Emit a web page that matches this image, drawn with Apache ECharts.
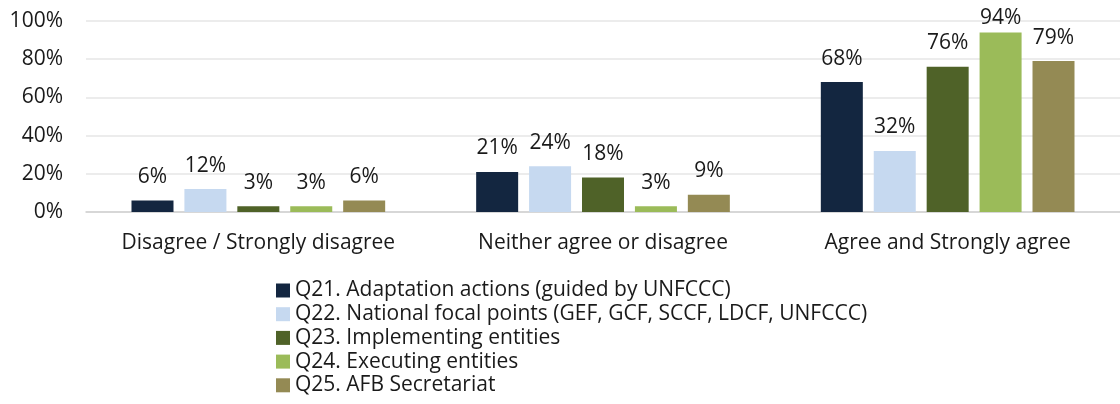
<!DOCTYPE html>
<html>
<head>
<meta charset="utf-8">
<script src="https://cdn.jsdelivr.net/npm/echarts@6/dist/echarts.min.js"></script>
<style>
  html, body { margin: 0; padding: 0; background: #fff; }
  #chart { width: 1120px; height: 404px; }
</style>
</head>
<body>
<div id="chart"></div>
<script>
// categories and series values (percent)
const categories = ['Disagree / Strongly disagree', 'Neither agree or disagree', 'Agree and Strongly agree'];
const seriesNames = [
  'Q21. Adaptation actions (guided by UNFCCC)',
  'Q22. National focal points (GEF, GCF, SCCF, LDCF, UNFCCC)',
  'Q23. Implementing entities',
  'Q24. Executing entities',
  'Q25. AFB Secretariat'
];
const q21 = [6, 21, 68];
const q22 = [12, 24, 32];
const q23 = [3, 18, 76];
const q24 = [3, 3, 94];
const q25 = [6, 9, 79];
const yTicks = [0, 20, 40, 60, 80, 100];

const colors = ['#132640', '#c6d9f0', '#4f6228', '#9bbb59', '#948a54'];
const font = '"Open Sans", sans-serif';
const fs = 21;

const chart = echarts.init(document.getElementById('chart'));

const makeSeries = (name, data, i) => ({
  name: name,
  type: 'bar',
  // labels near the top edge get pushed down into the plot, like the original
  data: data.map(v => v > 90 ? { value: v, label: { distance: 4 } } : v),
  barWidth: 42,
  barGap: '26%',
  itemStyle: { color: colors[i] },
  label: {
    show: true,
    position: 'top',
    distance: 13,
    formatter: '{c}%',
    color: '#1a1a1a',
    fontSize: fs,
    fontFamily: font
  },
  animation: false
});

chart.setOption({
  animation: false,
  grid: {
    left: 86,
    top: 21,
    width: 1042,
    height: 191
  },
  xAxis: {
    type: 'category',
    data: categories,
    axisTick: { show: false },
    axisLine: { lineStyle: { color: '#d0d0d0', width: 1.5 } },
    axisLabel: {
      interval: 0,
      hideOverlap: false,
      color: '#1a1a1a',
      fontSize: fs,
      fontFamily: font,
      margin: 21
    }
  },
  yAxis: {
    type: 'value',
    min: yTicks[0],
    max: yTicks[yTicks.length - 1],
    interval: 20,
    axisLine: { show: false },
    axisTick: { show: false },
    splitLine: { lineStyle: { color: '#e6e6e6', width: 1.5 } },
    axisLabel: {
      formatter: '{value}%',
      color: '#1a1a1a',
      fontSize: fs,
      fontFamily: font,
      margin: 23
    }
  },
  legend: {
    orient: 'vertical',
    left: 276,
    top: 280,
    padding: 0,
    height: 124,
    itemWidth: 14,
    itemHeight: 14,
    itemGap: 2.7,
    icon: 'rect',
    textStyle: {
      color: '#1a1a1a',
      fontSize: fs,
      fontFamily: font
    },
    data: seriesNames
  },
  series: [
    makeSeries(seriesNames[0], q21, 0),
    makeSeries(seriesNames[1], q22, 1),
    makeSeries(seriesNames[2], q23, 2),
    makeSeries(seriesNames[3], q24, 3),
    makeSeries(seriesNames[4], q25, 4)
  ]
});
</script>
</body>
</html>
